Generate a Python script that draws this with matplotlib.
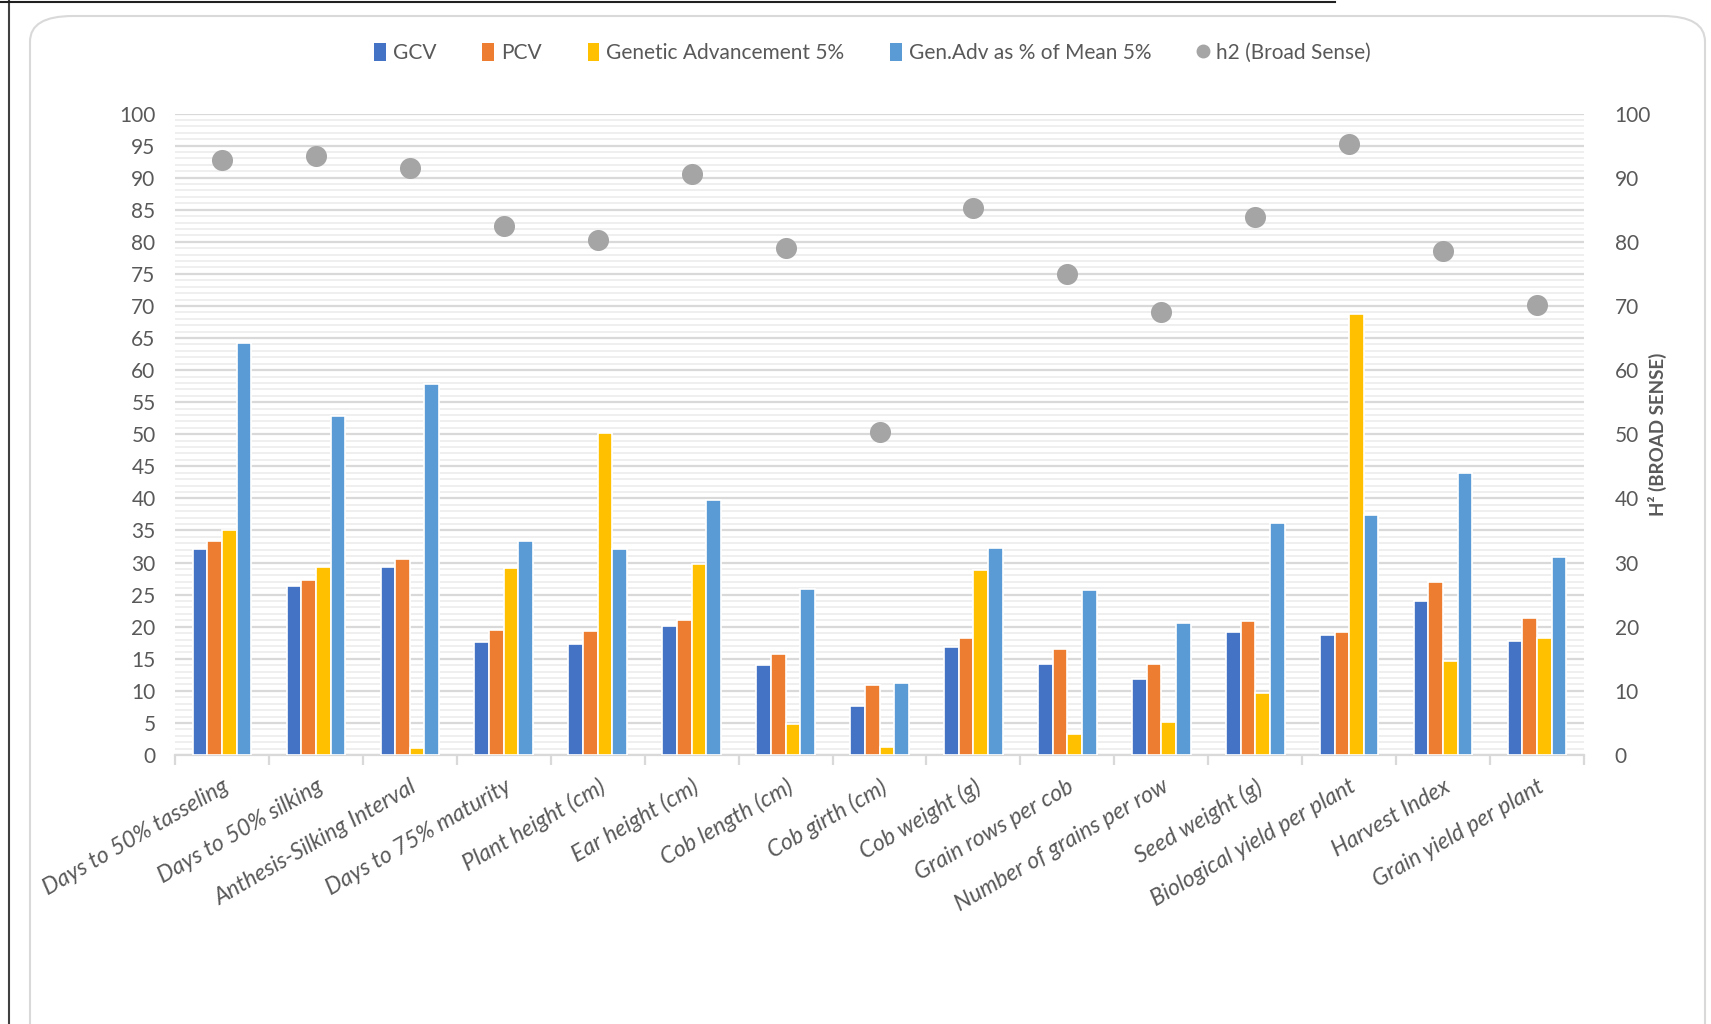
import numpy as np
import matplotlib
matplotlib.use('Agg')
from matplotlib import pyplot as plt
from matplotlib.patches import Patch, FancyBboxPatch
from matplotlib.lines import Line2D
from matplotlib.ticker import MultipleLocator, FixedLocator

plt.rcParams['font.family'] = ['Lato', 'DejaVu Sans']

traits = ['Days to 50% tasseling', 'Days to 50% silking', 'Anthesis-Silking Interval',
          'Days to 75% maturity', 'Plant height (cm)', 'Ear height (cm)', 'Cob length (cm)',
          'Cob girth (cm)', 'Cob weight (g)', 'Grain rows per cob', 'Number of grains per row',
          'Seed weight (g)', 'Biological yield per plant', 'Harvest Index', 'Grain yield per plant']

gcv = [32.1, 26.3, 29.3, 17.6, 17.3, 20.1, 14.0, 7.7, 16.9, 14.2, 11.8, 19.1, 18.7, 24.0, 17.8]
pcv = [33.3, 27.3, 30.5, 19.5, 19.3, 21.1, 15.7, 10.9, 18.3, 16.5, 14.2, 20.9, 19.1, 27.0, 21.3]
ga = [35.0, 29.3, 1.1, 29.1, 50.2, 29.7, 4.9, 1.3, 28.9, 3.3, 5.2, 9.7, 68.8, 14.7, 18.3]
ga_mean = [64.2, 52.8, 57.8, 33.3, 32.1, 39.8, 25.9, 11.2, 32.3, 25.7, 20.5, 36.1, 37.4, 44.0, 30.9]
h2 = [92.8, 93.4, 91.5, 82.5, 80.3, 90.5, 79.1, 50.3, 85.2, 75.0, 69.0, 83.8, 95.2, 78.6, 70.2]

series_names = ['GCV', 'PCV', 'Genetic Advancement 5%', 'Gen.Adv as % of Mean 5%']
colors = ['#4472C4', '#ED7D31', '#FFC000', '#5B9BD5']
h2_color = '#A5A5A5'
txt = '#595959'

fig = plt.figure(figsize=(17.11, 10.24), dpi=100)

# outer frame like the screenshot
fig.add_artist(plt.Line2D([9/1711, 9/1711], [0, 1], color='#404040', lw=1.5, zorder=-5))
fig.add_artist(plt.Line2D([0, 0.78], [0.998, 0.998], color='#202020', lw=1.5, zorder=-5))
box = FancyBboxPatch((30/1711, -0.05), 1675/1711, 1.05 - 16/1024,
                     boxstyle='round,pad=0,rounding_size=0.025',
                     transform=fig.transFigure, fc='white', ec='#D9D9D9', lw=1.5, zorder=-10)
fig.add_artist(box)

ax = fig.add_axes([175/1711, 269/1024, 1409/1711, 641.5/1024])
ax.patch.set_alpha(0)
x = np.arange(len(traits))
slot = 0.156
for i, (vals, c) in enumerate(zip([gcv, pcv, ga, ga_mean], colors)):
    ax.bar(x + (i - 1.5) * slot, vals, width=slot, color=c, edgecolor='white',
           linewidth=1.2, zorder=3)

ax.set_xlim(-0.5, len(traits) - 0.5)
ax.set_ylim(0, 100)
ax.yaxis.set_major_locator(MultipleLocator(5))
ax.yaxis.set_minor_locator(MultipleLocator(1))
ax.grid(axis='y', which='major', color='#D9D9D9', lw=1.6, zorder=0)
ax.grid(axis='y', which='minor', color='#EFEFEF', lw=1.4, zorder=0)
ax.set_axisbelow(True)
for s in ['top', 'right', 'left']:
    ax.spines[s].set_visible(False)
ax.spines['bottom'].set_color('#D9D9D9')
ax.spines['bottom'].set_linewidth(1.6)
ax.tick_params(axis='y', which='both', length=0, labelsize=15, labelcolor=txt, pad=14)

ax.xaxis.set_major_locator(FixedLocator(x))
ax.xaxis.set_minor_locator(FixedLocator(np.arange(-0.5, len(traits))))
ax.set_xticklabels(traits, rotation=30, ha='right', va='top', rotation_mode='anchor',
                   fontsize=16.5, color=txt, style='italic')
ax.tick_params(axis='x', which='major', length=0, pad=15)
ax.tick_params(axis='x', which='minor', length=7, color='#D9D9D9', width=1.6)

ax2 = ax.twinx()
ax2.scatter(x, h2, s=230, color=h2_color, zorder=5, linewidths=0)
ax2.set_ylim(0, 100)
ax2.yaxis.set_major_locator(MultipleLocator(10))
for s in ['top', 'right', 'left', 'bottom']:
    ax2.spines[s].set_visible(False)
ax2.tick_params(axis='y', length=0, labelsize=15, labelcolor=txt, pad=22)
ax2.set_ylabel('H² (BROAD SENSE)', fontsize=13.5, color=txt, fontweight='bold', labelpad=-2)

handles = [Patch(facecolor=c, edgecolor='none') for c in colors]
handles.append(Line2D([], [], marker='o', ls='none', color=h2_color, markersize=9))
fig.legend(handles, series_names + ['h2 (Broad Sense)'], loc='center',
           bbox_to_anchor=(0.51, 0.948), ncol=5, frameon=False, fontsize=15,
           labelcolor=txt, handlelength=0.55, handleheight=0.9, handletextpad=0.35,
           columnspacing=2.2)

fig.savefig('out.png', dpi=100)
